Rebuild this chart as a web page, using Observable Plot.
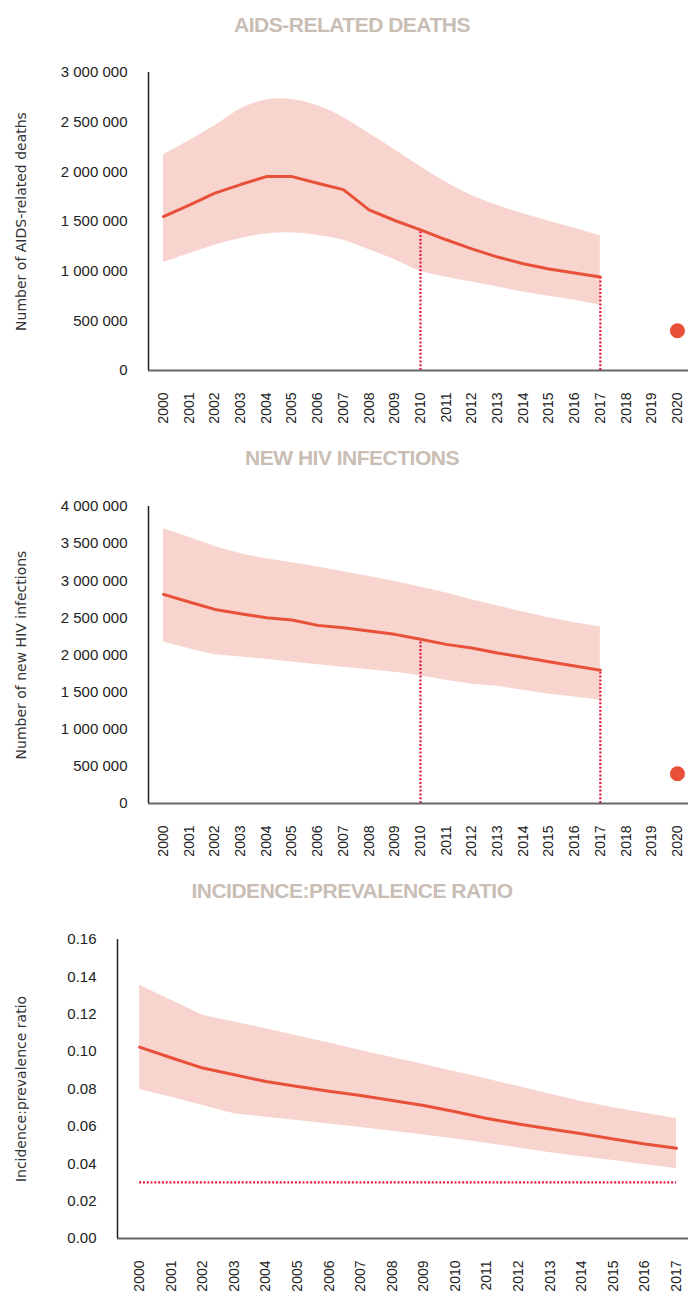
<!DOCTYPE html>
<html>
<head>
<meta charset="utf-8">
<script src="https://cdn.jsdelivr.net/npm/d3@7"></script>
<script src="https://cdn.jsdelivr.net/npm/@observablehq/plot@0.6"></script>
<style>
  html, body { margin: 0; padding: 0; background: #fff; }
  body { width: 688px; height: 1293px; position: relative; overflow: hidden; font-family: "Liberation Sans", Arial, sans-serif; }
  .title { position: absolute; left: 0; width: 704px; text-align: center; font-weight: bold; font-size: 21px; letter-spacing: -0.5px; line-height: 30px; color: #c9bdb4; }
  .chart { position: absolute; left: 0; }
</style>
</head>
<body>
<div class="title" id="t1" style="top:10px">AIDS-RELATED DEATHS</div>
<div class="chart" id="c1" style="top:50px"></div>
<div class="title" id="t2" style="top:443px">NEW HIV INFECTIONS</div>
<div class="chart" id="c2" style="top:482px"></div>
<div class="title" id="t3" style="top:876px">INCIDENCE:PREVALENCE RATIO</div>
<div class="chart" id="c3" style="top:915px"></div>
<script>
// ---- data ----
const years = [2000,2001,2002,2003,2004,2005,2006,2007,2008,2009,2010,2011,2012,2013,2014,2015,2016,2017];
const axisYears1 = [2000,2001,2002,2003,2004,2005,2006,2007,2008,2009,2010,2011,2012,2013,2014,2015,2016,2017,2018,2019,2020];

const deathsMid   = [1550000,1665000,1785000,1872000,1952000,1952000,1885000,1821000,1617000,1510000,1416000,1316000,1225000,1142000,1075000,1021000,981000,941000];
const deathsHigh  = [2173000,2314000,2464000,2632000,2722000,2729000,2665000,2548000,2387000,2223000,2052000,1895000,1761000,1661000,1577000,1503000,1433000,1356000];
const deathsLow   = [1087000,1175000,1262000,1330000,1375000,1385000,1360000,1310000,1215000,1115000,1000000,940000,890000,840000,790000,747000,706000,656000];
const deathsTarget = [{year: 2020, value: 400000}];
const deathsTicks = [0,500000,1000000,1500000,2000000,2500000,3000000];

const infMid  = [2816000,2713000,2614000,2556000,2502000,2471000,2399000,2368000,2323000,2278000,2211000,2143000,2094000,2027000,1969000,1910000,1852000,1794000];
const infHigh = [3700000,3587000,3462000,3363000,3296000,3242000,3184000,3121000,3058000,2991000,2915000,2834000,2744000,2659000,2578000,2502000,2435000,2377000];
const infLow  = [2175000,2085000,2004000,1973000,1942000,1906000,1870000,1834000,1803000,1767000,1722000,1659000,1605000,1578000,1525000,1471000,1435000,1390000];
const infTarget = [{year: 2020, value: 400000}];
const infTicks = [0,500000,1000000,1500000,2000000,2500000,3000000,3500000,4000000];

const ipMid  = [0.1024,0.0967,0.0912,0.0876,0.0840,0.0813,0.0788,0.0765,0.0738,0.0712,0.0678,0.0642,0.0613,0.0586,0.0560,0.0533,0.0506,0.0483];
const ipHigh = [0.1355,0.1275,0.1194,0.1158,0.1123,0.1083,0.1046,0.1006,0.0969,0.0931,0.0892,0.0853,0.0813,0.0772,0.0733,0.0699,0.0670,0.0642];
const ipLow  = [0.0797,0.0756,0.0712,0.0667,0.0649,0.0631,0.0613,0.0594,0.0574,0.0554,0.0533,0.0510,0.0484,0.0459,0.0438,0.0417,0.0395,0.0375];
const ipBenchmark = 0.03;
const ipTicks = [0,0.02,0.04,0.06,0.08,0.10,0.12,0.14,0.16];

const markerYears = [2010, 2017];

// ---- styles ----
const LINE = "#e8503a";
const BAND = "#f8d4cf";
const DOT = "#e3163f";
const spaced = d => d3.format(",")(d).replace(/,/g, " ");

function rows(mid, lo, hi) {
  return years.map((y, i) => ({year: y, mid: mid[i], lo: lo[i], hi: hi[i]}));
}

function chart({data, target, yDomain, yTicks, yFormat, xDomain, xTicks, height, marginTop, marginBottom, marginLeft, label, labelDx, areaCurve, drops, benchmark}) {
  const marks = [
    Plot.areaY(data, {x: "year", y1: "lo", y2: "hi", fill: BAND, curve: areaCurve}),
  ];
  if (drops) {
    const dropData = drops.map(yr => data.find(d => d.year === yr));
    marks.push(Plot.ruleX(dropData, {x: "year", y1: 0, y2: "mid", stroke: DOT, strokeWidth: 2.2, strokeDasharray: "2 1.8"}));
  }
  if (benchmark != null) {
    marks.push(Plot.ruleY([benchmark], {x1: years[0], x2: years[years.length - 1], stroke: DOT, strokeWidth: 2.2, strokeDasharray: "2 1.8"}));
  }
  marks.push(Plot.line(data, {x: "year", y: "mid", stroke: LINE, strokeWidth: 3}));
  if (target) marks.push(Plot.dot(target, {x: "year", y: "value", r: 7.5, fill: LINE}));
  marks.push(Plot.ruleY([0], {stroke: "#666", strokeWidth: 2}));
  marks.push(Plot.ruleX([xDomain[0]], {y1: yDomain[0], y2: yDomain[1], stroke: "#222", strokeWidth: 1.5}));
  marks.push(Plot.axisY({ticks: yTicks, tickFormat: yFormat, tickSize: 0, tickPadding: 21, fontSize: 15, label: null}));
  marks.push(Plot.axisX({ticks: xTicks, tickFormat: d => String(d), tickSize: 0, tickRotate: -90, tickPadding: 22, fontSize: 14, label: null}));
  marks.push(Plot.text([label], {frameAnchor: "left", textAnchor: "middle", lineAnchor: "middle", dx: labelDx, rotate: -90, fontSize: 14, fontFamily: "'DejaVu Sans', sans-serif", fill: "#333", text: d => d}));
  return Plot.plot({
    width: 688,
    height,
    marginTop, marginBottom, marginLeft, marginRight: 0,
    style: {fontFamily: "'Liberation Sans', Arial, sans-serif", color: "#222", background: "transparent"},
    x: {type: "linear", domain: xDomain},
    y: {domain: yDomain},
    marks
  });
}

document.getElementById("c1").append(chart({
  data: rows(deathsMid, deathsLow, deathsHigh), target: deathsTarget,
  yDomain: [0, 3000000], yTicks: deathsTicks, yFormat: spaced,
  xDomain: [1999.416, 2020.43], xTicks: axisYears1,
  height: 382, marginTop: 22, marginBottom: 62, marginLeft: 148,
  label: "Number of AIDS-related deaths", labelDx: -127, areaCurve: "catmull-rom", drops: markerYears
}));

document.getElementById("c2").append(chart({
  data: rows(infMid, infLow, infHigh), target: infTarget,
  yDomain: [0, 4000000], yTicks: infTicks, yFormat: spaced,
  xDomain: [1999.416, 2020.43], xTicks: axisYears1,
  height: 383, marginTop: 24, marginBottom: 62, marginLeft: 148,
  label: "Number of new HIV infections", labelDx: -127, areaCurve: "linear", drops: markerYears
}));

document.getElementById("c3").append(chart({
  data: rows(ipMid, ipLow, ipHigh), target: null,
  yDomain: [0, 0.16], yTicks: ipTicks, yFormat: d3.format(".2f"),
  xDomain: [1999.30, 2017.38], xTicks: years,
  height: 378, marginTop: 24, marginBottom: 55, marginLeft: 117,
  label: "Incidence:prevalence ratio", labelDx: -96, areaCurve: "linear", benchmark: ipBenchmark
}));
</script>
</body>
</html>
